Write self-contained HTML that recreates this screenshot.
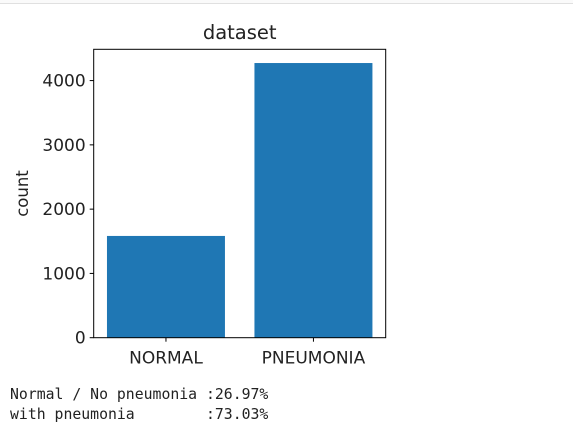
<!DOCTYPE html>
<html><head><meta charset="utf-8"><style>
body{margin:0;width:573px;height:436px;background:#fff;overflow:hidden;position:relative;font-family:"DejaVu Sans","Liberation Sans",sans-serif}
#topline{position:absolute;left:0;top:0;width:573px;height:3px;border-bottom:1px solid #e0e0e0;background:#fafafa}
pre{position:absolute;left:10px;top:385px;margin:0;font-family:"DejaVu Sans Mono","Liberation Mono",monospace;font-size:14.8px;line-height:20px;color:#222}
</style></head><body>
<div id="topline"></div>
<svg id="chart" width="573" height="380" style="position:absolute;left:0;top:0"></svg>
<pre>Normal / No pneumonia :26.97%
with pneumonia        :73.03%</pre>
<script>
const categories=["NORMAL","PNEUMONIA"];
const counts=[1583,4273];
const yTicks=[0,1000,2000,3000,4000];
const svg=document.getElementById('chart');
const NS='http://www.w3.org/2000/svg';
const L=93.7,R=385.7,T=49.3,B=337.7;
const yMax=4486.65;
const y=v=>B-(v/yMax)*(B-T);
const xmin=-0.49,xmax=categories.length-1+0.49;
const x=i=>L+(i-xmin)/(xmax-xmin)*(R-L);
function mk(tag,attrs){const e=document.createElementNS(NS,tag);for(const k in attrs)e.setAttribute(k,attrs[k]);svg.appendChild(e);return e;}
counts.forEach((c,i)=>{
  const w=(x(1)-x(0))*0.8;
  const r=mk('rect',{x:x(i)-w/2,y:y(c),width:w,height:B-y(c),fill:'#1f77b4'});
  
  
  mk('line',{x1:x(i),x2:x(i),y1:B,y2:B+4,stroke:'#000','stroke-width':1});
  const t=mk('text',{x:x(i),y:B+26,'text-anchor':'middle','font-size':'17',fill:'#222'});
  t.textContent=categories[i];
  
  
});
yTicks.forEach(v=>{
  mk('line',{x1:L-4,x2:L,y1:y(v),y2:y(v),stroke:'#000','stroke-width':1});
  const t=mk('text',{x:L-8,y:y(v)+6,'text-anchor':'end','font-size':'17',fill:'#222'});
  t.textContent=v;
  
  
});
const frame=mk('rect',{x:L,y:T,width:R-L,height:B-T,fill:'none',stroke:'#000','stroke-width':1});


const title=mk('text',{x:(L+R)/2,y:39,'text-anchor':'middle','font-size':'19.5',fill:'#222'});
title.textContent='dataset';


const yl=mk('text',{x:0,y:0,'text-anchor':'middle','font-size':'16.5',fill:'#222',transform:'translate(28,'+((T+B)/2)+') rotate(-90)'});
yl.textContent='count';


</script>
</body></html>
